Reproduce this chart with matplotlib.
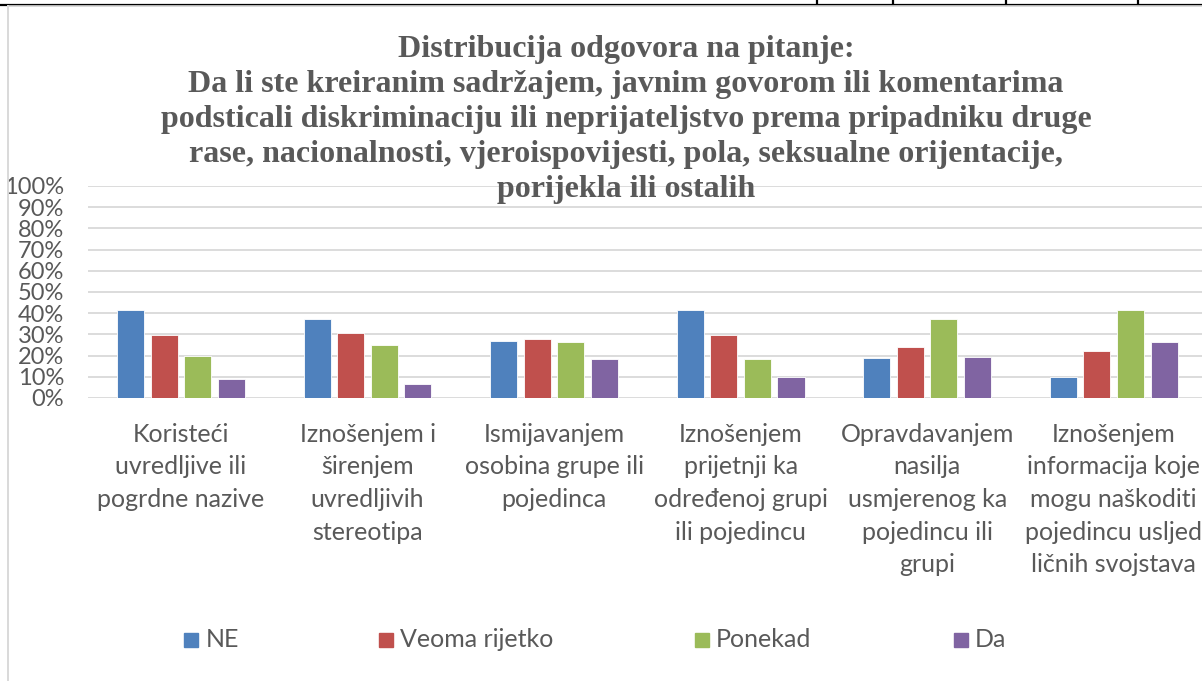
import numpy as np
import matplotlib
matplotlib.use('Agg')
import matplotlib.pyplot as plt
from matplotlib.patches import Rectangle
from matplotlib.lines import Line2D

# === Data ===
categories = [
    "Koristeći\nuvredljive ili\npogrdne nazive",
    "Iznošenjem i\nširenjem\nuvredljivih\nstereotipa",
    "Ismijavanjem\nosobina grupe ili\npojedinca",
    "Iznošenjem\nprijetnji ka\nodređenoj grupi\nili pojedincu",
    "Opravdavanjem\nnasilja\nusmjerenog ka\npojedincu ili\ngrupi",
    "Iznošenjem\ninformacija koje\nmogu naškoditi\npojedincu usljed\nličnih svojstava",
]
series = ["NE", "Veoma rijetko", "Ponekad", "Da"]
ne = [41.5, 37.4, 26.9, 41.5, 18.9, 9.9]
veoma_rijetko = [29.6, 30.7, 27.7, 29.9, 23.9, 22.0]
ponekad = [19.7, 24.8, 26.3, 18.2, 37.3, 41.5]
da = [8.8, 6.6, 18.6, 9.9, 19.5, 26.3]
yticks = [0, 10, 20, 30, 40, 50, 60, 70, 80, 90, 100]

title = ("Distribucija odgovora na pitanje:\n"
         "Da li ste kreiranim sadržajem, javnim govorom ili komentarima\n"
         "podsticali diskriminaciju ili neprijateljstvo prema pripadniku druge\n"
         "rase, nacionalnosti, vjeroispovijesti, pola, seksualne orijentacije,\n"
         "porijekla ili ostalih")

colors = ['#4F81BD', '#C0504D', '#9BBB59', '#8064A2']
TXT = '#595959'
GRID = '#D9D9D9'

W, H = 1202, 681
fig = plt.figure(figsize=(W / 100, H / 100), dpi=100)

def fx(px): return px / W
def fy(py): return 1 - py / H

# plot area in pixel coords of the reference
ax_l, ax_r, ax_t, ax_b = 87.7, 1207.0, 186.0, 398.0
ax = fig.add_axes([fx(ax_l), fy(ax_b), fx(ax_r - ax_l), (ax_b - ax_t) / H])

x = np.arange(len(categories))
bw = 0.145
offsets = [-0.27, -0.09, 0.09, 0.27]
for vals, off, c in zip([ne, veoma_rijetko, ponekad, da], offsets, colors):
    ax.bar(x + off, vals, bw, color=c, edgecolor='white', linewidth=0.6, zorder=3)

ax.set_xlim(-0.5, len(categories) - 0.5)
ax.set_ylim(0, 100)
ax.set_yticks(yticks)
ax.set_yticklabels([f"{v}%" for v in yticks])
ax.set_xticks(x)
ax.set_xticklabels(categories, family='Lato', fontsize=18, color=TXT, linespacing=1.5)
ax.tick_params(axis='y', length=0, pad=17, labelsize=17, labelcolor=TXT)
ax.tick_params(axis='x', length=0, pad=18)
for lab in ax.get_yticklabels():
    lab.set_family('Lato')
ax.yaxis.grid(True, color=GRID, lw=1.3, zorder=0)
ax.set_axisbelow(True)
for s in ax.spines.values():
    s.set_visible(False)

# title drawn over the gridlines
fig.text(fx(626), fy(35), title, ha='center', va='top', family='Liberation Serif',
         fontweight='bold', fontsize=23, color=TXT, linespacing=1.27, zorder=10)

# legend, placed like Excel's
leg_sq = [184.4, 378.5, 695.0, 953.7]
for name, c, sx in zip(series, colors, leg_sq):
    fig.add_artist(Rectangle((fx(sx), fy(647)), fx(14), 14 / H, color=c,
                             transform=fig.transFigure))
    fig.text(fx(sx + 21), fy(639.5), name, ha='left', va='center', family='Lato',
             fontsize=18, color=TXT)

# page frame remnants: table row on top, chart border on the left
fig.add_artist(Line2D([0, 1], [fy(4.5), fy(4.5)], color='black', lw=1.6, transform=fig.transFigure))
for vx in [817, 893, 1006, 1138]:
    fig.add_artist(Line2D([fx(vx), fx(vx)], [fy(0), fy(4.5)], color='black', lw=1.6,
                          transform=fig.transFigure))
fig.add_artist(Line2D([fx(8), 1], [fy(6), fy(6)], color=GRID, lw=1.2, transform=fig.transFigure))
fig.add_artist(Line2D([fx(8), fx(8)], [0, fy(6)], color=GRID, lw=1.4, transform=fig.transFigure))

fig.savefig('out.png', dpi=100)
